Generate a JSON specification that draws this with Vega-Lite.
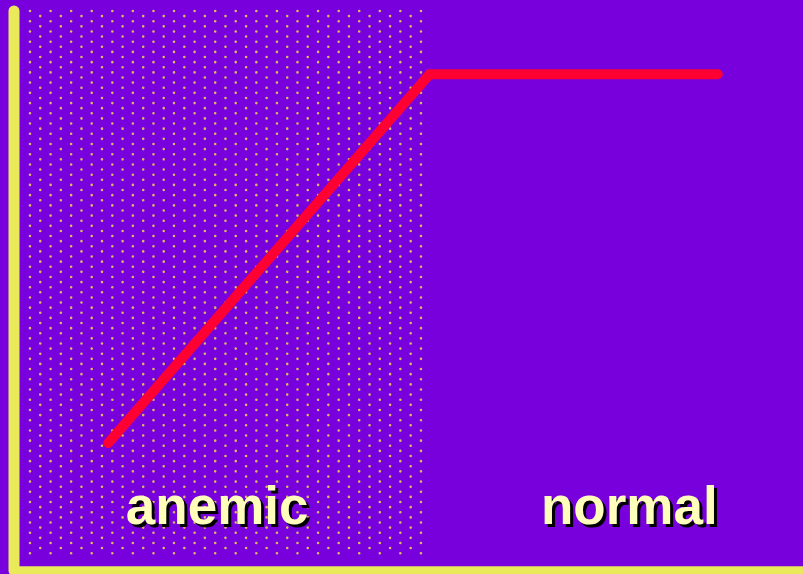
{
  "$schema": "https://vega.github.io/schema/vega-lite/v6.json",
  "width": 789.5,
  "height": 559.5,
  "autosize": {"type": "none"},
  "padding": {"left": 13.5, "top": 10.5, "right": 0, "bottom": 4},
  "background": "#7700DD",
  "config": {
    "view": {"stroke": null},
    "axis": {"labels": false, "ticks": false, "grid": false, "domainColor": "#E9E95A", "domainCap": "round", "title": null},
    "axisX": {"domainWidth": 8.5},
    "axisY": {"domainWidth": 11}
  },
  "datasets": {
    "dots": [
      {"x": 2.09, "top": 99.91, "bottom": 2.98},
      {"x": 3.39, "top": 99.0, "bottom": 3.9},
      {"x": 4.70, "top": 99.91, "bottom": 2.98},
      {"x": 6.00, "top": 99.0, "bottom": 3.9},
      {"x": 7.30, "top": 99.91, "bottom": 2.98},
      {"x": 8.61, "top": 99.0, "bottom": 3.9},
      {"x": 9.91, "top": 99.91, "bottom": 2.98},
      {"x": 11.21, "top": 99.0, "bottom": 3.9},
      {"x": 12.52, "top": 99.91, "bottom": 2.98},
      {"x": 13.82, "top": 99.0, "bottom": 3.9},
      {"x": 15.12, "top": 99.91, "bottom": 2.98},
      {"x": 16.43, "top": 99.0, "bottom": 3.9},
      {"x": 17.73, "top": 99.91, "bottom": 2.98},
      {"x": 19.03, "top": 99.0, "bottom": 3.9},
      {"x": 20.33, "top": 99.91, "bottom": 2.98},
      {"x": 21.64, "top": 99.0, "bottom": 3.9},
      {"x": 22.94, "top": 99.91, "bottom": 2.98},
      {"x": 24.24, "top": 99.0, "bottom": 3.9},
      {"x": 25.55, "top": 99.91, "bottom": 2.98},
      {"x": 26.85, "top": 99.0, "bottom": 3.9},
      {"x": 28.15, "top": 99.91, "bottom": 2.98},
      {"x": 29.46, "top": 99.0, "bottom": 3.9},
      {"x": 30.76, "top": 99.91, "bottom": 2.98},
      {"x": 32.06, "top": 99.0, "bottom": 3.9},
      {"x": 33.37, "top": 99.91, "bottom": 2.98},
      {"x": 34.67, "top": 99.0, "bottom": 3.9},
      {"x": 35.97, "top": 99.91, "bottom": 2.98},
      {"x": 37.27, "top": 99.0, "bottom": 3.9},
      {"x": 38.58, "top": 99.91, "bottom": 2.98},
      {"x": 39.88, "top": 99.0, "bottom": 3.9},
      {"x": 41.19, "top": 99.91, "bottom": 2.98},
      {"x": 42.49, "top": 99.0, "bottom": 3.9},
      {"x": 43.79, "top": 99.91, "bottom": 2.98},
      {"x": 45.10, "top": 99.0, "bottom": 3.9},
      {"x": 46.40, "top": 99.91, "bottom": 2.98},
      {"x": 47.70, "top": 99.0, "bottom": 3.9},
      {"x": 49.00, "top": 99.91, "bottom": 2.98},
      {"x": 50.31, "top": 99.0, "bottom": 3.9},
      {"x": 51.61, "top": 99.91, "bottom": 2.98}
    ],
    "labels": [
      {"x": 25.8, "y": 8.2, "label": "anemic"},
      {"x": 78.0, "y": 8.2, "label": "normal"}
    ],
    "curve": [
      {"x": 12.0, "y": 22.7},
      {"x": 52.7, "y": 88.6},
      {"x": 89.2, "y": 88.6}
    ]
  },
  "layer": [
    {
      "data": {"name": "dots"},
      "mark": {"type": "rule", "color": "#E6CC55", "opacity": 0.9, "strokeWidth": 2.6, "strokeCap": "round", "strokeDash": [0.01, 10.22]},
      "encoding": {
        "x": {"field": "x", "type": "quantitative", "scale": {"domain": [0, 100], "nice": false}, "axis": {"title": null}},
        "y": {"field": "top", "type": "quantitative", "scale": {"domain": [0, 100], "nice": false}, "axis": {"title": null}},
        "y2": {"field": "bottom"}
      }
    },
    {
      "data": {"name": "labels"},
      "mark": {"type": "text", "font": "Liberation Sans", "fontWeight": "bold", "fontSize": 53, "align": "center", "baseline": "alphabetic", "color": "#000000", "dx": 3, "dy": 3},
      "encoding": {
        "x": {"field": "x", "type": "quantitative", "scale": {"domain": [0, 100], "nice": false}},
        "y": {"field": "y", "type": "quantitative", "scale": {"domain": [0, 100], "nice": false}},
        "text": {"field": "label"}
      }
    },
    {
      "data": {"name": "labels"},
      "mark": {"type": "text", "font": "Liberation Sans", "fontWeight": "bold", "fontSize": 53, "align": "center", "baseline": "alphabetic", "color": "#FFFFBB"},
      "encoding": {
        "x": {"field": "x", "type": "quantitative", "scale": {"domain": [0, 100], "nice": false}},
        "y": {"field": "y", "type": "quantitative", "scale": {"domain": [0, 100], "nice": false}},
        "text": {"field": "label"}
      }
    },
    {
      "data": {"name": "curve"},
      "mark": {"type": "line", "color": "#FF0033", "strokeWidth": 10, "strokeCap": "round"},
      "encoding": {
        "x": {"field": "x", "type": "quantitative", "scale": {"domain": [0, 100], "nice": false}},
        "y": {"field": "y", "type": "quantitative", "scale": {"domain": [0, 100], "nice": false}}
      }
    }
  ]
}
